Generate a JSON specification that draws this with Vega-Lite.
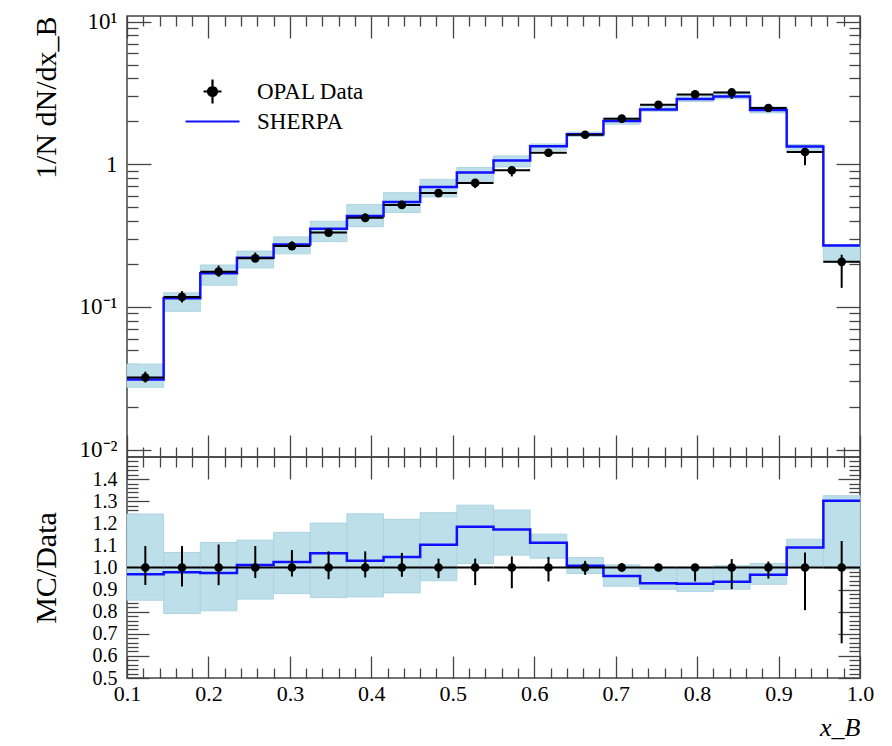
{
  "$schema": "https://vega.github.io/schema/vega-lite/v6.json",
  "padding": {"left": 30, "top": 9, "right": 5, "bottom": 0},
  "spacing": 0,
  "bounds": "flush",
  "config": {
    "font": "Liberation Serif",
    "view": {"stroke": "#444", "strokeWidth": 1.5},
    "axis": {
      "labelFont": "Liberation Serif", "labelFontSize": 22, "labelColor": "black",
      "titleFont": "Liberation Serif", "titleFontSize": 30, "titleFontWeight": "normal", "titleColor": "black",
      "tickColor": "#444", "tickWidth": 1.3, "domain": false, "grid": false,
      "labelFlush": false, "labelOverlap": false, "labelBound": false
    }
  },
  "resolve": {"scale": {"x": "independent", "y": "independent", "color": "independent"}},
  "datasets": {
    "bins": [
      {"lo": 0.1, "hi": 0.145, "mid": 0.1225, "data": 0.032, "dlo": 0.0295, "dhi": 0.0351, "bandlo": 0.0273, "bandhi": 0.0397, "rdlo": 0.921, "rdhi": 1.097, "rbandlo": 0.852, "rbandhi": 1.242},
      {"lo": 0.145, "hi": 0.19, "mid": 0.1675, "data": 0.1175, "dlo": 0.1074, "dhi": 0.1289, "bandlo": 0.0931, "bandhi": 0.1255, "rdlo": 0.914, "rdhi": 1.097, "rbandlo": 0.792, "rbandhi": 1.068},
      {"lo": 0.19, "hi": 0.235, "mid": 0.2125, "data": 0.1766, "dlo": 0.1625, "dhi": 0.195, "bandlo": 0.142, "bandhi": 0.1966, "rdlo": 0.92, "rdhi": 1.104, "rbandlo": 0.804, "rbandhi": 1.113},
      {"lo": 0.235, "hi": 0.28, "mid": 0.2575, "data": 0.219, "dlo": 0.2085, "dhi": 0.2402, "bandlo": 0.1877, "bandhi": 0.2462, "rdlo": 0.952, "rdhi": 1.097, "rbandlo": 0.857, "rbandhi": 1.124},
      {"lo": 0.28, "hi": 0.325, "mid": 0.3025, "data": 0.267, "dlo": 0.256, "dhi": 0.2881, "bandlo": 0.2355, "bandhi": 0.3095, "rdlo": 0.959, "rdhi": 1.079, "rbandlo": 0.882, "rbandhi": 1.159},
      {"lo": 0.325, "hi": 0.37, "mid": 0.3475, "data": 0.332, "dlo": 0.3144, "dhi": 0.3562, "bandlo": 0.2868, "bandhi": 0.3987, "rdlo": 0.947, "rdhi": 1.073, "rbandlo": 0.864, "rbandhi": 1.201},
      {"lo": 0.37, "hi": 0.415, "mid": 0.3925, "data": 0.421, "dlo": 0.402, "dhi": 0.4517, "bandlo": 0.365, "bandhi": 0.5233, "rdlo": 0.955, "rdhi": 1.073, "rbandlo": 0.867, "rbandhi": 1.243},
      {"lo": 0.415, "hi": 0.46, "mid": 0.4375, "data": 0.519, "dlo": 0.4972, "dhi": 0.5533, "bandlo": 0.4593, "bandhi": 0.6321, "rdlo": 0.958, "rdhi": 1.066, "rbandlo": 0.885, "rbandhi": 1.218},
      {"lo": 0.46, "hi": 0.505, "mid": 0.4825, "data": 0.628, "dlo": 0.5979, "dhi": 0.6531, "bandlo": 0.5903, "bandhi": 0.7837, "rdlo": 0.952, "rdhi": 1.04, "rbandlo": 0.94, "rbandhi": 1.248},
      {"lo": 0.505, "hi": 0.55, "mid": 0.5275, "data": 0.74, "dlo": 0.6808, "dhi": 0.7696, "bandlo": 0.7533, "bandhi": 0.9487, "rdlo": 0.92, "rdhi": 1.04, "rbandlo": 1.018, "rbandhi": 1.282},
      {"lo": 0.55, "hi": 0.595, "mid": 0.5725, "data": 0.908, "dlo": 0.8226, "dhi": 0.9534, "bandlo": 0.9588, "bandhi": 1.144, "rdlo": 0.906, "rdhi": 1.05, "rbandlo": 1.056, "rbandhi": 1.26},
      {"lo": 0.595, "hi": 0.64, "mid": 0.6175, "data": 1.205, "dlo": 1.129, "dhi": 1.263, "bandlo": 1.2556, "bandhi": 1.387, "rdlo": 0.937, "rdhi": 1.048, "rbandlo": 1.042, "rbandhi": 1.151},
      {"lo": 0.64, "hi": 0.685, "mid": 0.6625, "data": 1.61, "dlo": 1.557, "dhi": 1.658, "bandlo": 1.5665, "bandhi": 1.682, "rdlo": 0.967, "rdhi": 1.03, "rbandlo": 0.973, "rbandhi": 1.045},
      {"lo": 0.685, "hi": 0.73, "mid": 0.7075, "data": 2.09, "dlo": 2.048, "dhi": 2.132, "bandlo": 1.912, "bandhi": 2.115, "rdlo": 0.98, "rdhi": 1.02, "rbandlo": 0.915, "rbandhi": 1.012},
      {"lo": 0.73, "hi": 0.775, "mid": 0.7525, "data": 2.61, "dlo": 2.571, "dhi": 2.649, "bandlo": 2.354, "bandhi": 2.61, "rdlo": 0.985, "rdhi": 1.015, "rbandlo": 0.902, "rbandhi": 1.0},
      {"lo": 0.775, "hi": 0.82, "mid": 0.7975, "data": 3.09, "dlo": 2.895, "dhi": 3.127, "bandlo": 2.753, "bandhi": 3.081, "rdlo": 0.937, "rdhi": 1.012, "rbandlo": 0.891, "rbandhi": 0.997},
      {"lo": 0.82, "hi": 0.865, "mid": 0.8425, "data": 3.19, "dlo": 2.877, "dhi": 3.311, "bandlo": 2.877, "bandhi": 3.216, "rdlo": 0.902, "rdhi": 1.038, "rbandlo": 0.902, "rbandhi": 1.008},
      {"lo": 0.865, "hi": 0.91, "mid": 0.8875, "data": 2.48, "dlo": 2.356, "dhi": 2.547, "bandlo": 2.292, "bandhi": 2.525, "rdlo": 0.95, "rdhi": 1.027, "rbandlo": 0.924, "rbandhi": 1.018},
      {"lo": 0.91, "hi": 0.955, "mid": 0.9325, "data": 1.22, "dlo": 0.985, "dhi": 1.303, "bandlo": 1.23, "bandhi": 1.376, "rdlo": 0.807, "rdhi": 1.068, "rbandlo": 1.008, "rbandhi": 1.128},
      {"lo": 0.955, "hi": 1.0, "mid": 0.9775, "data": 0.207, "dlo": 0.136, "dhi": 0.232, "bandlo": 0.205, "bandhi": 0.2743, "rdlo": 0.657, "rdhi": 1.12, "rbandlo": 0.995, "rbandhi": 1.325}
    ],
    "sherpa": [
      {"x": 0.1, "mc": 0.031, "r": 0.97},
      {"x": 0.145, "mc": 0.115, "r": 0.979},
      {"x": 0.19, "mc": 0.1722, "r": 0.975},
      {"x": 0.235, "mc": 0.2214, "r": 1.011},
      {"x": 0.28, "mc": 0.2737, "r": 1.025},
      {"x": 0.325, "mc": 0.3536, "r": 1.065},
      {"x": 0.37, "mc": 0.434, "r": 1.031},
      {"x": 0.415, "mc": 0.5439, "r": 1.048},
      {"x": 0.46, "mc": 0.6927, "r": 1.103},
      {"x": 0.505, "mc": 0.8762, "r": 1.184},
      {"x": 0.55, "mc": 1.064, "r": 1.172},
      {"x": 0.595, "mc": 1.34, "r": 1.112},
      {"x": 0.64, "mc": 1.623, "r": 1.008},
      {"x": 0.685, "mc": 2.008, "r": 0.961},
      {"x": 0.73, "mc": 2.425, "r": 0.929},
      {"x": 0.775, "mc": 2.864, "r": 0.927},
      {"x": 0.82, "mc": 2.983, "r": 0.935},
      {"x": 0.865, "mc": 2.398, "r": 0.967},
      {"x": 0.91, "mc": 1.331, "r": 1.091},
      {"x": 0.955, "mc": 0.2695, "r": 1.302},
      {"x": 1.0, "mc": 0.2695, "r": 1.302}
    ]
  },
  "vconcat": [
    {
      "width": 733,
      "height": 441,
      "resolve": {"axis": {"x": "independent", "y": "independent"}},
      "layer": [
        {
          "data": {"name": "bins"},
          "mark": {"type": "rect", "fill": "#bcdfea", "stroke": "#aed4e1", "strokeWidth": 1},
          "encoding": {
            "x": {"field": "lo", "type": "quantitative", "scale": {"domain": [0.1, 1.0], "nice": false, "zero": false},
                  "axis": {"orient": "bottom", "values": [0.1,0.2,0.3,0.4,0.5,0.6,0.7,0.8,0.9,1.0], "tickSize": -22, "labels": false, "title": null}},
            "x2": {"field": "hi"},
            "y": {"field": "bandlo", "type": "quantitative", "scale": {"type": "log", "domain": [0.00886, 10.96], "nice": false},
                  "axis": {"orient": "left", "values": [0.01, 0.1, 1, 10], "tickSize": -24, "labelPadding": 34, "labelFontSize": 23,
                           "labelExpr": "datum.value < 0.05 ? '10⁻²' : datum.value < 0.5 ? '10⁻¹' : datum.value < 5 ? '1' : '10¹'",
                           "title": "1/N dN/dx_B", "titleAnchor": "end", "titleX": -66}},
            "y2": {"field": "bandhi"}
          }
        },
        {
          "data": {"name": "sherpa"},
          "mark": {"type": "line", "interpolate": "step-after", "strokeWidth": 2.5},
          "encoding": {
            "x": {"field": "x", "type": "quantitative", "scale": {"domain": [0.1, 1.0], "nice": false, "zero": false},
                  "axis": {"orient": "bottom", "values": [0.12,0.14,0.16,0.18,0.22,0.24,0.26,0.28,0.32,0.34,0.36,0.38,0.42,0.44,0.46,0.48,0.52,0.54,0.56,0.58,0.62,0.64,0.66,0.68,0.72,0.74,0.76,0.78,0.82,0.84,0.86,0.88,0.92,0.94,0.96,0.98], "tickSize": -10, "labels": false, "title": null}},
            "y": {"field": "mc", "type": "quantitative", "scale": {"type": "log", "domain": [0.00886, 10.96], "nice": false},
                  "axis": {"orient": "left", "values": [0.02,0.03,0.04,0.05,0.06,0.07,0.08,0.09,0.2,0.3,0.4,0.5,0.6,0.7,0.8,0.9,2,3,4,5,6,7,8,9], "tickSize": -11, "labels": false, "title": null}},
            "color": {"datum": "SHERPA", "type": "nominal", "scale": {"domain": ["OPAL Data", "SHERPA"], "range": ["black", "#1010ff"]},
                      "legend": {"orient": "none", "legendX": 74, "legendY": 64, "title": null, "labelFont": "Liberation Serif", "labelFontSize": 23, "labelColor": "black",
                                 "symbolSize": 400, "labelOffset": 33, "rowPadding": 2, "padding": 0,
                                 "encode": {"symbols": {"update": {
                                   "shape": [{"test": "datum.value === 'SHERPA'", "value": "M-2.7,0H2.7"}, {"value": "M-0.9,0H0.9M0,-1.2V1.2M0.45,0A0.45,0.45,0,1,1,-0.45,0A0.45,0.45,0,1,1,0.45,0Z"}],
                                   "fill": [{"test": "datum.value === 'SHERPA'", "value": "transparent"}, {"value": "black"}],
                                   "stroke": [{"test": "datum.value === 'SHERPA'", "value": "#1010ff"}, {"value": "black"}],
                                   "strokeWidth": {"value": 2.2},
                                   "opacity": {"value": 1}
                                 }}}}}
          }
        },
        {
          "data": {"name": "bins"},
          "mark": {"type": "rule", "color": "black", "strokeWidth": 2},
          "encoding": {
            "x": {"field": "lo", "type": "quantitative", "scale": {"domain": [0.1, 1.0], "nice": false, "zero": false},
                  "axis": {"orient": "top", "values": [0.1,0.2,0.3,0.4,0.5,0.6,0.7,0.8,0.9,1.0], "tickSize": -22, "labels": false, "title": null}},
            "x2": {"field": "hi"},
            "y": {"field": "data", "type": "quantitative", "scale": {"type": "log", "domain": [0.00886, 10.96], "nice": false},
                  "axis": {"orient": "right", "values": [0.01, 0.1, 1, 10], "tickSize": -24, "labels": false, "title": null}}
          }
        },
        {
          "data": {"name": "bins"},
          "mark": {"type": "rule", "color": "black", "strokeWidth": 2},
          "encoding": {
            "x": {"field": "mid", "type": "quantitative", "scale": {"domain": [0.1, 1.0], "nice": false, "zero": false},
                  "axis": {"orient": "top", "values": [0.12,0.14,0.16,0.18,0.22,0.24,0.26,0.28,0.32,0.34,0.36,0.38,0.42,0.44,0.46,0.48,0.52,0.54,0.56,0.58,0.62,0.64,0.66,0.68,0.72,0.74,0.76,0.78,0.82,0.84,0.86,0.88,0.92,0.94,0.96,0.98], "tickSize": -10, "labels": false, "title": null}},
            "y": {"field": "dlo", "type": "quantitative", "scale": {"type": "log", "domain": [0.00886, 10.96], "nice": false},
                  "axis": {"orient": "right", "values": [0.02,0.03,0.04,0.05,0.06,0.07,0.08,0.09,0.2,0.3,0.4,0.5,0.6,0.7,0.8,0.9,2,3,4,5,6,7,8,9], "tickSize": -11, "labels": false, "title": null}},
            "y2": {"field": "dhi"}
          }
        },
        {
          "data": {"name": "bins"},
          "mark": {"type": "point", "filled": true, "size": 75, "opacity": 1},
          "encoding": {
            "x": {"field": "mid", "type": "quantitative", "scale": {"domain": [0.1, 1.0], "nice": false, "zero": false}, "axis": null},
            "y": {"field": "data", "type": "quantitative", "scale": {"type": "log", "domain": [0.00886, 10.96], "nice": false}, "axis": null},
            "color": {"datum": "OPAL Data", "type": "nominal", "scale": {"domain": ["OPAL Data", "SHERPA"], "range": ["black", "#1010ff"]}}
          }
        }
      ]
    },
    {
      "width": 733,
      "height": 221,
      "resolve": {"axis": {"x": "independent", "y": "independent"}},
      "layer": [
        {
          "data": {"name": "bins"},
          "mark": {"type": "rect", "fill": "#bcdfea", "stroke": "#aed4e1", "strokeWidth": 1},
          "encoding": {
            "x": {"field": "lo", "type": "quantitative", "scale": {"domain": [0.1, 1.0], "nice": false, "zero": false},
                  "axis": {"orient": "bottom", "values": [0.1,0.2,0.3,0.4,0.5,0.6,0.7,0.8,0.9,1.0], "tickSize": -22, "labelPadding": 27, "format": ".1f",
                           "title": "x_B", "titleAnchor": "end", "titleFontStyle": "italic", "titleFontSize": 26, "titlePadding": 10}},
            "x2": {"field": "hi"},
            "y": {"field": "rbandlo", "type": "quantitative", "scale": {"domain": [0.5, 1.5], "nice": false, "zero": false},
                  "axis": {"orient": "left", "values": [0.5,0.6,0.7,0.8,0.9,1.0,1.1,1.2,1.3,1.4], "tickSize": -22, "labelPadding": 32, "format": ".1f", "labelFontSize": 20,
                           "title": "MC/Data", "titleX": -66}},
            "y2": {"field": "rbandhi"}
          }
        },
        {
          "data": {"name": "sherpa"},
          "mark": {"type": "line", "interpolate": "step-after", "strokeWidth": 2.5, "color": "#1010ff"},
          "encoding": {
            "x": {"field": "x", "type": "quantitative", "scale": {"domain": [0.1, 1.0], "nice": false, "zero": false},
                  "axis": {"orient": "bottom", "values": [0.12,0.14,0.16,0.18,0.22,0.24,0.26,0.28,0.32,0.34,0.36,0.38,0.42,0.44,0.46,0.48,0.52,0.54,0.56,0.58,0.62,0.64,0.66,0.68,0.72,0.74,0.76,0.78,0.82,0.84,0.86,0.88,0.92,0.94,0.96,0.98], "tickSize": -10, "labels": false, "title": null}},
            "y": {"field": "r", "type": "quantitative", "scale": {"domain": [0.5, 1.5], "nice": false, "zero": false},
                  "axis": {"orient": "left", "values": [0.52,0.54,0.56,0.58,0.62,0.64,0.66,0.68,0.72,0.74,0.76,0.78,0.82,0.84,0.86,0.88,0.92,0.94,0.96,0.98,1.02,1.04,1.06,1.08,1.12,1.14,1.16,1.18,1.22,1.24,1.26,1.28,1.32,1.34,1.36,1.38,1.42,1.44,1.46,1.48], "tickSize": -11, "labels": false, "title": null}}
          }
        },
        {
          "data": {"name": "bins"},
          "mark": {"type": "rule", "color": "black", "strokeWidth": 2},
          "encoding": {
            "x": {"field": "lo", "type": "quantitative", "scale": {"domain": [0.1, 1.0], "nice": false, "zero": false},
                  "axis": {"orient": "top", "values": [0.1,0.2,0.3,0.4,0.5,0.6,0.7,0.8,0.9,1.0], "tickSize": -22, "labels": false, "title": null}},
            "x2": {"field": "hi"},
            "y": {"datum": 1, "type": "quantitative", "scale": {"domain": [0.5, 1.5], "nice": false, "zero": false},
                  "axis": {"orient": "right", "values": [0.5,0.6,0.7,0.8,0.9,1.0,1.1,1.2,1.3,1.4], "tickSize": -22, "labels": false, "title": null}}
          }
        },
        {
          "data": {"name": "bins"},
          "mark": {"type": "rule", "color": "black", "strokeWidth": 2},
          "encoding": {
            "x": {"field": "mid", "type": "quantitative", "scale": {"domain": [0.1, 1.0], "nice": false, "zero": false},
                  "axis": {"orient": "top", "values": [0.12,0.14,0.16,0.18,0.22,0.24,0.26,0.28,0.32,0.34,0.36,0.38,0.42,0.44,0.46,0.48,0.52,0.54,0.56,0.58,0.62,0.64,0.66,0.68,0.72,0.74,0.76,0.78,0.82,0.84,0.86,0.88,0.92,0.94,0.96,0.98], "tickSize": -10, "labels": false, "title": null}},
            "y": {"field": "rdlo", "type": "quantitative", "scale": {"domain": [0.5, 1.5], "nice": false, "zero": false},
                  "axis": {"orient": "right", "values": [0.52,0.54,0.56,0.58,0.62,0.64,0.66,0.68,0.72,0.74,0.76,0.78,0.82,0.84,0.86,0.88,0.92,0.94,0.96,0.98,1.02,1.04,1.06,1.08,1.12,1.14,1.16,1.18,1.22,1.24,1.26,1.28,1.32,1.34,1.36,1.38,1.42,1.44,1.46,1.48], "tickSize": -11, "labels": false, "title": null}},
            "y2": {"field": "rdhi"}
          }
        },
        {
          "data": {"name": "bins"},
          "mark": {"type": "point", "filled": true, "size": 75, "opacity": 1, "color": "black"},
          "encoding": {
            "x": {"field": "mid", "type": "quantitative", "scale": {"domain": [0.1, 1.0], "nice": false, "zero": false}, "axis": null},
            "y": {"datum": 1, "type": "quantitative", "scale": {"domain": [0.5, 1.5], "nice": false, "zero": false}, "axis": null}
          }
        }
      ]
    }
  ]
}
